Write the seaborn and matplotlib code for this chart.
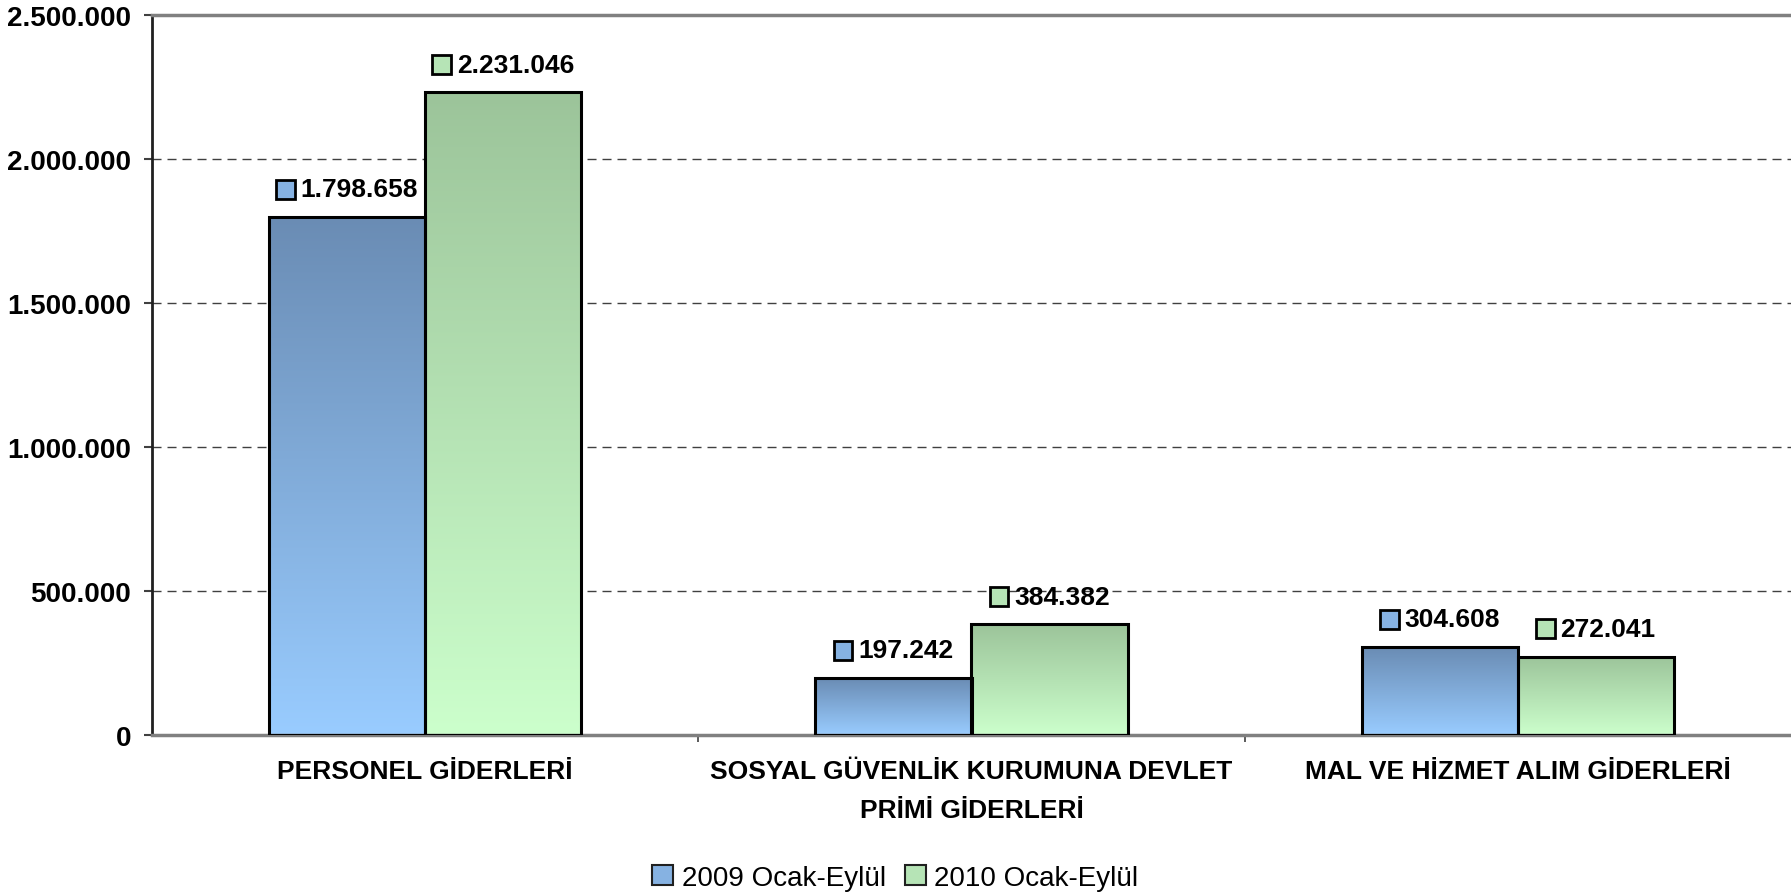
import numpy as np
import pandas as pd
import matplotlib
matplotlib.use("Agg")
import matplotlib.pyplot as plt
import seaborn as sns
from matplotlib.colors import LinearSegmentedColormap
from matplotlib.patches import Rectangle, Patch
from matplotlib.offsetbox import AnnotationBbox, DrawingArea, TextArea, HPacker

# Veriler
kategoriler = ["PERSONEL GİDERLERİ",
               "SOSYAL GÜVENLİK KURUMUNA DEVLET\nPRİMİ GİDERLERİ",
               "MAL VE HİZMET ALIM GİDERLERİ"]
donemler = ["2009 Ocak-Eylül", "2010 Ocak-Eylül"]
degerler_2009 = [1798658, 197242, 304608]
degerler_2010 = [2231046, 384382, 272041]
y_ticks = [0, 500000, 1000000, 1500000, 2000000, 2500000]

# renkler: (ust, alt) gradyan
renkler = {donemler[0]: ("#6A8CB4", "#99CCFF"),
           donemler[1]: ("#9CC49A", "#CCFFCC")}
orta_renk = {donemler[0]: "#86B2E2", donemler[1]: "#B6E4B6"}

data = pd.DataFrame({
    "kategori": kategoriler * 2,
    "donem": [donemler[0]] * 3 + [donemler[1]] * 3,
    "deger": degerler_2009 + degerler_2010,
})

sns.set_style("white")
plt.rcParams["font.family"] = ["Liberation Sans", "DejaVu Sans"]
plt.rcParams["text.color"] = "black"

fig = plt.figure(figsize=(17.91, 8.95), dpi=100)
ax = fig.add_axes([152 / 1791, 1 - 736 / 895, 1 - 152 / 1791, 720 / 895])

sns.barplot(data=data, x="kategori", y="deger", hue="donem", order=kategoriler,
            hue_order=donemler, width=0.572, gap=0, legend=False, ax=ax,
            edgecolor="black", linewidth=2.2, saturation=1, errorbar=None)

# Gradyan dolgu
grad = np.linspace(0, 1, 256).reshape(-1, 1)
for cont, donem in zip(ax.containers, donemler):
    ust, alt = renkler[donem]
    cmap = LinearSegmentedColormap.from_list(donem, [alt, ust])
    for bar in cont:
        bar.set_facecolor("none")
        bar.set_zorder(3)
        x0, y0 = bar.get_x(), bar.get_y()
        w, h = bar.get_width(), bar.get_height()
        im = ax.imshow(grad, extent=[x0, x0 + w, y0, y0 + h], origin="lower",
                       aspect="auto", cmap=cmap, zorder=2.5)
        im.set_clip_path(bar)

        # deger etiketi: kare + metin
        da = DrawingArea(13.5, 13.5, 0, 0)
        da.add_artist(Rectangle((0, 0), 13.5, 13.5, facecolor=orta_renk[donem],
                                edgecolor="black", linewidth=2))
        txt = TextArea(f"{int(h):,}".replace(",", "."),
                       textprops=dict(fontsize=19, fontweight="bold", color="black"))
        box = HPacker(children=[da, txt], align="center", pad=0, sep=4)
        ab = AnnotationBbox(box, (x0 + w / 2, h), xybox=(0, 20),
                            boxcoords="offset points", frameon=False,
                            box_alignment=(0.5, 0.5), pad=0)
        ax.add_artist(ab)

ax.set_xlim(-0.5, 2.5)
ax.set_ylim(0, 2500000)

# Eksenler
ax.set_yticks(y_ticks)
ax.set_yticklabels([f"{v:,}".replace(",", ".") for v in y_ticks],
                   fontsize=20, fontweight="bold", color="black")
ax.yaxis.grid(True, linestyle=(0, (6.5, 4.3)), color="#404040", linewidth=1)
ax.set_axisbelow(True)
ax.tick_params(axis="y", length=6, width=1.5, color="#404040", pad=9, left=True)

ax.set_xticks(range(3))
ax.set_xticklabels(kategoriler, fontsize=19, fontweight="bold", color="black",
                   linespacing=1.8)
ax.set_xticks([0.5, 1.5], minor=True)
ax.tick_params(axis="x", which="major", length=0, pad=17)
ax.tick_params(axis="x", which="minor", length=5, width=1.2, color="#404040",
               bottom=True)
ax.set_xlabel("")
ax.set_ylabel("")

for side in ["top", "bottom"]:
    ax.spines[side].set_color("#808080")
    ax.spines[side].set_linewidth(2.5)
ax.spines["left"].set_color("#202020")
ax.spines["left"].set_linewidth(2)
ax.spines["right"].set_visible(False)

# Lejant
handles = [Patch(facecolor=orta_renk[d], edgecolor="#202020", linewidth=1.5)
           for d in donemler]
fig.legend(handles, donemler, loc="center", bbox_to_anchor=(0.5, 1 - 879 / 895),
           ncol=2, frameon=False, fontsize=20, handlelength=0.75, handleheight=0.75,
           handletextpad=0.3, columnspacing=0.7)

fig.savefig("out.png", dpi=100)
